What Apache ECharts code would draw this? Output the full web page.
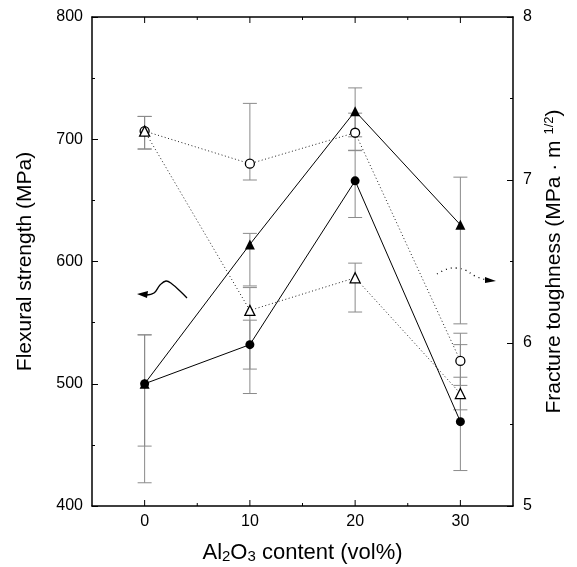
<!DOCTYPE html>
<html>
<head>
<meta charset="utf-8">
<script src="https://cdn.jsdelivr.net/npm/echarts@6/dist/echarts.min.js"></script>
<style>
html, body { margin: 0; padding: 0; background: #fff; }
#main { width: 577px; height: 567px; }
</style>
</head>
<body>
<div id="main"></div>
<script>
var chart = echarts.init(document.getElementById('main'));

// Al2O3 content (vol%)
var xVals = [0, 10, 20, 30];
var xMajor = [0, 10, 20, 30];
var xMinor = [5, 15, 25];

// flexural strength (MPa), left axis
var strengthTri = [500, 614, 723, 630];
var strengthTriLow = [419, 580, 702, 549];
var strengthTriHigh = [540, 623, 742, 669];
var strengthCir = [500, 532, 666, 469];
var strengthCirLow = [449, 512, 636, 429];
var strengthCirHigh = [540, 552, 691, 532];

// fracture toughness (MPa m^1/2), right axis
var toughCir = [7.30, 7.10, 7.29, 5.89];
var toughCirLow = [7.19, 7.00, 7.18, 5.74];
var toughCirHigh = [7.39, 7.47, 7.41, 6.06];
var toughTri = [7.30, 6.20, 6.40, 5.69];
var toughTriLow = [7.19, 5.69, 6.19, 5.59];
var toughTriHigh = [7.39, 6.34, 6.49, 5.79];

var FONT = 'Liberation Sans, Arial, sans-serif';

var pts = function (ys) {
	var d = [];
	for (var i = 0; i < xVals.length; i++) d.push([xVals[i], ys[i]]);
	return d;
};
var bars = function (lo, hi) {
	var d = [];
	for (var i = 0; i < xVals.length; i++) d.push([xVals[i], lo[i], hi[i]]);
	return d;
};

var renderErr = function (params, api) {
	var x = api.value(0);
	var lo = api.coord([x, api.value(1)]);
	var hi = api.coord([x, api.value(2)]);
	var w = 7;
	var st = { stroke: '#8a8a8a', lineWidth: 1 };
	return {
		type: 'group',
		children: [
			{ type: 'line', shape: { x1: lo[0], y1: lo[1], x2: hi[0], y2: hi[1] }, style: st },
			{ type: 'line', shape: { x1: lo[0] - w, y1: lo[1], x2: lo[0] + w, y2: lo[1] }, style: st },
			{ type: 'line', shape: { x1: hi[0] - w, y1: hi[1], x2: hi[0] + w, y2: hi[1] }, style: st }
		]
	};
};

var errSeries = function (lo, hi, yIdx) {
	return {
		type: 'custom',
		yAxisIndex: yIdx,
		renderItem: renderErr,
		encode: { x: 0, y: [1, 2] },
		data: bars(lo, hi),
		silent: true,
		z: 1
	};
};

// x-axis ticks on bottom and top edges of the frame
var tickSeries = function (vals, len) {
	return {
		type: 'custom',
		renderItem: function (params, api) {
			var cs = params.coordSys;
			var x = api.coord([api.value(0), 400])[0];
			var st = { stroke: '#000', lineWidth: 1 };
			return {
				type: 'group',
				children: [
					{ type: 'line', shape: { x1: x, y1: cs.y + cs.height, x2: x, y2: cs.y + cs.height - len }, style: st },
					{ type: 'line', shape: { x1: x, y1: cs.y, x2: x, y2: cs.y + len }, style: st }
				]
			};
		},
		encode: { x: 0 },
		data: vals.map(function (v) { return [v]; }),
		silent: true,
		z: 5
	};
};

var lineSeries = function (name, ys, yIdx, sym, size, open, dotted) {
	return {
		name: name,
		type: 'line',
		yAxisIndex: yIdx,
		data: pts(ys),
		symbol: sym,
		symbolSize: size,
		showAllSymbol: true,
		itemStyle: open ? { color: '#fff', borderColor: '#000', borderWidth: 1.3 } : { color: '#000' },
		lineStyle: dotted ? { color: '#222', width: 1, type: [1, 2.5] } : { color: '#000', width: 1 },
		z: 3
	};
};

var tickStyle = { color: '#000', width: 1 };
var frameStyle = { color: '#000', width: 1.5 };

var option = {
	animation: false,
	backgroundColor: '#fff',
	grid: { left: 92, right: 64, top: 17, bottom: 61, containLabel: false, outerBoundsMode: 'none' },
	xAxis: [{
		type: 'value', min: -5, max: 35,
		position: 'bottom',
		splitLine: { show: false },
		axisLine: { onZero: false, lineStyle: frameStyle },
		axisTick: { show: false },
		axisLabel: { customValues: xMajor, color: '#000', fontSize: 16, fontFamily: FONT, margin: 8 },
		name: '{a|Al}{s|2}{a|O}{s|3}{a| content (vol%)}',
		nameLocation: 'middle',
		nameGap: 36,
		nameTextStyle: {
			rich: {
				a: { fontSize: 22, fontFamily: FONT, color: '#000', lineHeight: 22, verticalAlign: 'top' },
				s: { fontSize: 15, fontFamily: FONT, color: '#000', lineHeight: 15, verticalAlign: 'bottom', padding: [13, 0, 0, 0] }
			}
		}
	}, {
		type: 'value', min: -5, max: 35,
		position: 'top',
		splitLine: { show: false },
		axisLine: { onZero: false, lineStyle: frameStyle },
		axisTick: { show: false },
		axisLabel: { show: false }
	}],
	yAxis: [{
		type: 'value', min: 400, max: 800, interval: 100,
		position: 'left',
		axisLine: { show: true, onZero: false, lineStyle: frameStyle },
		axisTick: { inside: true, length: 6, lineStyle: tickStyle },
		minorTick: { show: true, splitNumber: 2, length: 3, lineStyle: tickStyle },
		axisLabel: { color: '#000', fontSize: 16, fontFamily: FONT, margin: 9 },
		splitLine: { show: false },
		name: 'Flexural strength (MPa)',
		nameLocation: 'middle',
		nameRotate: 90,
		nameGap: 56,
		nameTextStyle: { fontSize: 21, fontFamily: FONT, color: '#000' }
	}, {
		type: 'value', min: 5, max: 8, interval: 1,
		position: 'right',
		axisLine: { show: true, onZero: false, lineStyle: frameStyle },
		axisTick: { inside: true, length: 6, lineStyle: tickStyle },
		minorTick: { show: true, splitNumber: 2, length: 3, lineStyle: tickStyle },
		axisLabel: { color: '#000', fontSize: 16, fontFamily: FONT, margin: 10 },
		splitLine: { show: false },
		name: '{a|Fracture toughness (MPa · m }{p|1/2}{a|)}',
		nameLocation: 'middle',
		nameRotate: 90,
		nameGap: 30,
		nameTextStyle: {
			rich: {
				a: { fontSize: 21, fontFamily: FONT, color: '#000', lineHeight: 22, verticalAlign: 'bottom' },
				p: { fontSize: 13, fontFamily: FONT, color: '#000', lineHeight: 13, verticalAlign: 'top', padding: [0, 0, 17, 0] }
			}
		}
	}],
	graphic: [
		{
			type: 'polyline',
			shape: { points: [[146, 295], [154, 293], [160, 285], [166, 281], [172, 284], [180, 291], [187, 298]], smooth: 0.4 },
			style: { stroke: '#000', lineWidth: 1.3, fill: null }
		},
		{
			type: 'polygon',
			shape: { points: [[137, 294], [148, 291], [147, 298]] },
			style: { fill: '#000' }
		},
		{
			type: 'polyline',
			shape: { points: [[437, 274], [447, 269], [456, 268], [465, 270], [475, 276], [486, 280]], smooth: 0.4 },
			style: { stroke: '#000', lineWidth: 1.3, fill: null, lineDash: [1, 4] }
		},
		{
			type: 'polygon',
			shape: { points: [[496, 281], [485, 277], [485, 283]] },
			style: { fill: '#000' }
		}
	],
	series: [
		tickSeries(xMajor, 6),
		tickSeries(xMinor, 3),
		errSeries(strengthTriLow, strengthTriHigh, 0),
		errSeries(strengthCirLow, strengthCirHigh, 0),
		errSeries(toughCirLow, toughCirHigh, 1),
		errSeries(toughTriLow, toughTriHigh, 1),
		lineSeries('strength tri', strengthTri, 0, 'triangle', 10, false, false),
		lineSeries('strength cir', strengthCir, 0, 'circle', 9, false, false),
		lineSeries('toughness cir', toughCir, 1, 'circle', 9, true, true),
		lineSeries('toughness tri', toughTri, 1, 'triangle', 10, true, true)
	]
};

chart.setOption(option);
</script>
</body>
</html>
